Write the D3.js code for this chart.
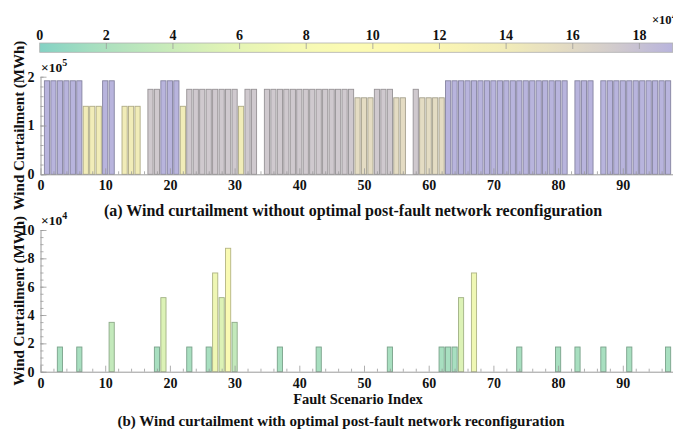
<!DOCTYPE html>
<html>
<head>
<meta charset="utf-8">
<script src="https://cdn.jsdelivr.net/npm/d3@7/dist/d3.min.js"></script>
<style>
  html, body { margin: 0; padding: 0; background: #fff; }
  svg { display: block; }
  text { font-family: "Liberation Serif", "Times New Roman", serif; font-weight: bold; fill: #111; }
</style>
</head>
<body>
<svg id="chart" width="673" height="430"></svg>
<script>
// Fault scenario indices 1..97
const scenarios = d3.range(1, 98);

// Curtailment without reconfiguration (MWh); null = scenario not drawn
const curtailNoReconfig = [
  191620, 191620, 191620, 191620, 191620, 191620, 139360, 139360, 139360, 191620,
  191620, null,   139360, 139360, 139360, null,   174200, 174200, 191620, 191620,
  191620, 139360, 174200, 174200, 174200, 174200, 174200, 174200, 174200, 174200,
  139360, 174200, 174200, null,   174200, 174200, 174200, 174200, 174200, 174200,
  174200, 174200, 174200, 174200, 174200, 174200, 174200, 174200, 156780, 156780,
  156780, 174200, 174200, 174200, 156780, 156780, null,   174200, 156780, 156780,
  156780, 156780, 191620, 191620, 191620, 191620, 191620, 191620, 191620, 191620,
  191620, 191620, 191620, 191620, 191620, 191620, 191620, 191620, 191620, 191620,
  191620, null,   191620, 191620, 191620, null,   191620, 191620, 191620, 191620,
  191620, 191620, 191620, 191620, 191620, 191620, 191620
];

// Curtailment with optimal reconfiguration (MWh)
const curtailReconfig = [
  0, 0, 17420, 0, 0, 17420, 0, 0, 0, 0,
  34840, null, 0, 0, 0, null, 0, 17420, 52260, 0,
  0, 0, 17420, 0, 0, 17420, 69680, 52260, 87100, 34840,
  0, 0, 0, null, 0, 0, 17420, 0, 0, 0,
  0, 0, 17420, 0, 0, 0, 0, 0, 0, 0,
  0, 0, 0, 17420, 0, 0, null, 0, 0, 0,
  0, 17420, 17420, 17420, 52260, 0, 69680, 0, 0, 0,
  0, 0, 0, 17420, 0, 0, 0, 0, 0, 17420,
  0, null, 17420, 0, 0, null, 17420, 0, 0, 0,
  17420, 0, 0, 0, 0, 0, 17420
];

const xTicks = [0, 10, 20, 30, 40, 50, 60, 70, 80, 90];
const yTicksTop = [0, 1, 2];               // x 10^5
const yTicksBottom = [0, 2, 4, 6, 8, 10];  // x 10^4
const cbarTicks = [0, 2, 4, 6, 8, 10, 12, 14, 16, 18]; // x 10^4

const titleA = "(a) Wind curtailment without optimal post-fault network reconfiguration";
const titleB = "(b) Wind curtailment with optimal post-fault network reconfiguration";
const yTitle = "Wind Curtailment (MWh)";
const xTitle = "Fault Scenario Index";

// colormap: teal -> green -> pale yellow -> beige -> lavender
const cmapPos = [0, 0.09, 0.2, 0.3, 0.4, 0.5, 0.62, 0.73, 0.82, 0.91, 1.0];
const cmapCol = ["#84d2c4", "#a8dfc0", "#c8ebba", "#e2f4b5", "#f5f9b4", "#fcfbb3",
                 "#fbf6b3", "#f2edb8", "#e5ddc2", "#d1cbcd", "#b8b4dd"];
const cMax = 190000;
const cmap = d3.scaleLinear().domain(cmapPos).range(cmapCol).interpolate(d3.interpolateRgb).clamp(true);
const color = v => cmap(v / cMax);

const svg = d3.select("#chart");
const axisGray = "#9a9a9a";

const x = d3.scaleLinear().domain([0, 98]).range([40.5, 40.5 + 98 * 6.47]);
const barW = 0.8 * 6.47;

// ---------- colour bar ----------
const cb = { x0: 39.7, x1: 672.7, y0: 43, y1: 52.3 };
const cbScale = d3.scaleLinear().domain([0, 19]).range([cb.x0, cb.x1]);
const defs = svg.append("defs");
const grad = defs.append("linearGradient").attr("id", "cbar");
d3.range(0, 1.0001, 0.02).forEach(t => {
  grad.append("stop").attr("offset", t).attr("stop-color", cmap(t));
});
svg.append("rect")
  .attr("x", cb.x0).attr("y", cb.y0)
  .attr("width", cb.x1 - cb.x0).attr("height", cb.y1 - cb.y0)
  .attr("fill", "url(#cbar)").attr("stroke", "#b0b0b0").attr("stroke-width", 0.8);
svg.append("g").selectAll("line").data(cbarTicks.slice(1)).join("line")
  .attr("x1", d => cbScale(d)).attr("x2", d => cbScale(d))
  .attr("y1", cb.y0).attr("y2", cb.y0 + 6)
  .attr("stroke", "#9a9a9a").attr("stroke-width", 0.8);
svg.append("g").selectAll("text").data(cbarTicks).join("text")
  .attr("x", d => cbScale(d)).attr("y", 40)
  .attr("text-anchor", "middle").attr("font-size", 14)
  .text(d => d);
const cbExp = svg.append("text").attr("x", 652).attr("y", 24).attr("font-size", 12.5);
cbExp.append("tspan").text("×10");
cbExp.append("tspan").attr("dy", -5).attr("font-size", 9).text("4");

// ---------- panel helper ----------
function panel(data, yMax, yTicks, unit, yMinorStep, expo, yTop, yBottom) {
  const y = d3.scaleLinear().domain([0, yMax]).range([yBottom, yTop]);
  const g = svg.append("g");
  const rows = scenarios.map((s, i) => ({ s, v: data[i] })).filter(d => d.v !== null);

  // bars
  g.append("g").selectAll("rect").data(rows).join("rect")
    .attr("x", d => x(d.s) - barW / 2)
    .attr("y", d => y(d.v))
    .attr("width", barW)
    .attr("height", d => y(0) - y(d.v))
    .attr("fill", d => color(d.v))
    .attr("stroke", d => d3.color(color(d.v)).darker(d.v === 0 ? 1.4 : 0.9))
    .attr("stroke-width", 0.9);

  // x axis (ticks pointing inward)
  const xAxis = d3.axisBottom(x).tickValues(xTicks).tickSizeInner(-6).tickSizeOuter(0).tickPadding(6);
  const gx = g.append("g").attr("transform", `translate(0,${yBottom})`).call(xAxis);
  const xMinor = d3.axisBottom(x).tickValues(d3.range(0, 98, 2).filter(v => v % 10 !== 0))
    .tickSizeInner(-3).tickSizeOuter(0).tickFormat("");
  const gxm = g.append("g").attr("transform", `translate(0,${yBottom})`).call(xMinor);
  gxm.select(".domain").remove();

  // y axis
  const yAxis = d3.axisLeft(y).tickValues(yTicks.map(t => t * unit))
    .tickSizeInner(-6).tickSizeOuter(0).tickPadding(6)
    .tickFormat(d => d3.format("d")(d / unit));
  const gy = g.append("g").attr("transform", `translate(${x(0)},0)`).call(yAxis);
  const yMinor = d3.axisLeft(y).tickValues(d3.range(0, yMax + 1, yMinorStep))
    .tickSizeInner(-3).tickSizeOuter(0).tickFormat("");
  const gym = g.append("g").attr("transform", `translate(${x(0)},0)`).call(yMinor);
  gym.select(".domain").remove();

  [gx, gxm, gy, gym].forEach(a => {
    a.selectAll("line").attr("stroke", axisGray).attr("stroke-width", 0.8);
    a.selectAll(".domain").attr("stroke", axisGray).attr("stroke-width", 1);
    a.selectAll("text").attr("font-family", null).attr("font-size", 14).attr("fill", "#111");
  });

  // exponent label
  const ex = g.append("text").attr("x", 41).attr("y", yTop - 5).attr("font-size", 13.5);
  ex.append("tspan").text("×10");
  ex.append("tspan").attr("dy", -6).attr("font-size", 10).text(expo);

  // y title
  g.append("text")
    .attr("transform", `translate(24,${(yTop + yBottom) / 2}) rotate(-90)`)
    .attr("text-anchor", "middle").attr("font-size", 15)
    .text(yTitle);
  return y;
}

panel(curtailNoReconfig, 200000, yTicksTop, 100000, 20000, "5", 76.7, 174.3);
panel(curtailReconfig, 100000, yTicksBottom, 10000, 5000, "4", 230, 371.7);

// titles
svg.append("text").attr("x", 353).attr("y", 216).attr("text-anchor", "middle")
  .attr("font-size", 16).text(titleA);
svg.append("text").attr("x", 358).attr("y", 404).attr("text-anchor", "middle")
  .attr("font-size", 14.5).text(xTitle);
svg.append("text").attr("x", 341).attr("y", 426).attr("text-anchor", "middle")
  .attr("font-size", 15).text(titleB);
</script>
</body>
</html>
